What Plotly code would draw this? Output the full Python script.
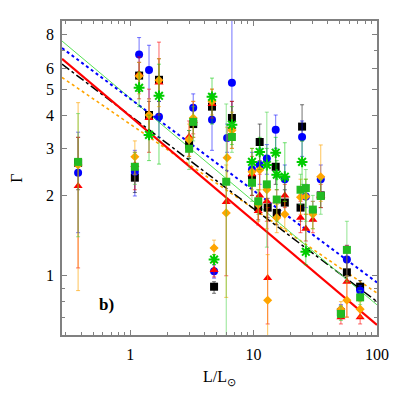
import plotly.graph_objects as go

# luminosity L/Lsun of each object column
L_obj = [0.378, 1.09, 1.18, 1.42, 1.71, 3.0, 3.24, 4.6, 4.78, 6.0, 6.1, 6.67, 9.7, 10.9,
         11.2, 12.8, 13.0, 15.1, 15.4, 17.9, 24.0, 24.7, 26.5, 30.2, 35.0, 51.0, 57.0, 73.0]

# Gamma values per method (None = not plotted), with lower / upper error ends
black_y = [2.65, 2.33, 5.62, 4.0, 5.42, 3.1, 3.7, 4.3, 0.91, None, None, 3.9, 2.3, 1.81,
           3.17, None, 1.8, 2.56, 1.72, 1.88, 1.8, 3.62, None, None, 2.0, 0.73, 1.03, 0.91]
black_lo = [2.1, 2.05, 4.9, 3.5, 4.5, 2.75, 3.3, 3.8, 0.86, None, None, 3.4, 2.0, 1.62,
            2.7, None, 1.65, 2.2, 1.55, 1.7, 1.6, 3.2, None, None, 1.8, 0.69, 0.95, 0.87]
black_hi = [3.3, 2.62, 6.3, 4.5, 6.5, 3.5, 4.2, 4.8, 0.95, None, None, 4.5, 2.6, 2.0,
            3.7, None, 1.95, 2.9, 1.9, 2.1, 2.0, 4.37, None, None, 2.25, 0.77, 1.12, 0.96]

blue_y = [2.43, 2.45, 6.74, 5.9, 3.94, None, 4.26, 3.84, 1.04, None, 3.28, 5.28, 2.5, None,
          2.6, 2.75, None, 3.52, None, 2.3, None, 3.31, 1.98, 1.75, 2.3, 0.74, 1.15, 0.88]
blue_lo = [1.45, 1.99, 5.6, 4.6, 3.3, None, 3.7, 2.95, 0.98, None, 2.9, 3.5, 2.2, None,
           2.2, 2.4, None, 3.0, None, 2.0, None, 2.8, 1.8, 1.6, 2.05, 0.7, 1.0, 0.84]
blue_hi = [3.45, 2.95, 7.8, 7.3, 4.5, None, 4.8, 4.8, 1.1, None, 3.7, 9.5, 2.9, None,
           3.0, 3.1, None, 4.0, None, 2.6, None, 3.8, 2.2, 1.9, 2.6, 0.78, 1.3, 0.92]

red_y = [2.17, 2.6, 5.7, 3.9, 5.3, 3.32, 3.8, 4.4, 1.05, 1.89, None, 3.6, 2.4, 1.75,
         2.0, 1.9, 0.98, None, 1.9, 2.0, 1.65, None, 1.5, 1.62, 2.0, 0.70, 0.95, 0.70]
red_lo = [1.07, 2.1, 4.6, 2.9, 4.0, 2.8, 3.4, 3.9, 0.99, 1.0, None, 3.0, 2.0, 1.55,
          1.7, 1.6, 0.66, None, 1.7, 1.8, 1.45, None, 1.35, 1.45, 1.8, 0.66, 0.7, 0.66]
red_hi = [3.3, 2.9, 6.6, 5.0, 7.5, 3.8, 4.5, 5.0, 1.12, 2.3, None, 4.5, 2.8, 1.95,
          2.4, 2.2, 1.8, None, 2.1, 2.2, 1.9, None, 1.7, 1.8, 2.2, 0.74, 1.3, 0.74]

orange_y = [2.6, 2.79, 5.6, 4.0, 5.4, 3.23, 3.9, 4.5, 1.27, 1.72, 2.77, 3.5, 2.45, 1.85,
            2.49, 2.1, 0.81, None, 1.65, 1.7, 1.97, None, 1.98, 1.7, 2.35, 0.75, 0.81, 0.75]
orange_lo = [0.88, 2.4, 4.8, 3.4, 4.3, 2.8, 3.3, 4.0, 1.2, 0.83, 2.3, 3.0, 2.1, 1.6,
             2.1, 1.5, 0.55, None, 1.45, 1.5, 1.7, None, 1.7, 1.5, 1.9, 0.7, 0.7, 0.7]
orange_hi = [4.45, 3.2, 6.3, 4.6, 6.5, 3.7, 4.5, 5.0, 1.36, 2.6, 3.6, 4.1, 3.0, 2.1,
             2.9, 2.6, 1.2, None, 1.85, 1.9, 2.3, None, 2.3, 1.9, 3.09, 0.8, 1.0, 0.8]

star_y = [None, None, 5.06, 3.37, 4.72, None, None, 4.68, 1.15, None, None, 3.68, 2.67, None,
          2.91, 2.6, None, 2.89, 2.39, 2.35, None, 2.67, 1.23, None, None, None, None, None]
star_lo = [None, None, 4.3, 2.7, 2.62, None, None, 3.7, 1.1, None, None, 3.1, 2.3, None,
           2.5, 2.2, None, 2.4, 2.1, 1.9, None, 2.2, 1.1, None, None, None, None, None]
star_hi = [None, None, 5.8, 4.0, 6.2, None, None, 5.5, 1.2, None, None, 4.3, 3.0, None,
           3.3, 3.0, None, 3.3, 2.7, 3.15, None, 3.2, 2.3, None, None, None, None, None]

gsq_y = [2.67, 2.56, None, None, None, 2.99, 3.77, None, None, 2.25, None, 3.31, 2.23, 1.9,
         None, 2.2, None, None, 1.93, None, 2.1, None, 2.13, 1.77, 1.99, 0.72, 1.25, 0.83]
gsq_lo = [1.4, 2.2, None, None, None, 2.5, 3.2, None, None, 0.55, None, 2.9, 1.9, 1.7,
          None, 1.28, None, None, 1.6, None, 1.85, None, 1.6, 1.5, 1.7, 0.68, 0.95, 0.78]
gsq_hi = [4.05, 2.9, None, None, None, 3.5, 4.3, None, None, 4.4, None, 3.7, 2.6, 2.1,
          None, 4.1, None, None, 2.3, None, 2.4, None, 2.5, 2.0, 2.3, 0.77, 1.6, 0.88]

# power-law fits, read at the two ends of the x range
fit_x = [0.28, 100]
fit_red = [6.49, 0.655]
fit_blue = [7.13, 0.944]
fit_green = [7.57, 0.778]
fit_black = [6.2, 0.80]
fit_orange = [5.53, 0.861]

SERIF = "Liberation Serif, Times New Roman, serif"

fig = go.Figure()

fig.add_trace(go.Scatter(x=fit_x, y=fit_orange, mode="lines",
                         line=dict(color="#ffa500", width=1.6, dash="dot")))
fig.add_trace(go.Scatter(x=fit_x, y=fit_black, mode="lines",
                         line=dict(color="black", width=1.5, dash="dashdot")))
fig.add_trace(go.Scatter(x=fit_x, y=fit_green, mode="lines",
                         line=dict(color="#55e055", width=1)))
fig.add_trace(go.Scatter(x=fit_x, y=fit_blue, mode="lines",
                         line=dict(color="#0000ff", width=2, dash="dot")))
fig.add_trace(go.Scatter(x=fit_x, y=fit_red, mode="lines",
                         line=dict(color="#ff0000", width=2.2)))


def add_points(ys, lo, hi, color, bar_color, symbol, size, line=None):
    up = [(h - y) if y is not None else 0 for y, h in zip(ys, hi)]
    down = [(y - l) if y is not None else 0 for y, l in zip(ys, lo)]
    fig.add_trace(go.Scatter(
        x=L_obj, y=ys, mode="markers",
        marker=dict(color=color, symbol=symbol, size=size,
                    line=line or dict(width=0)),
        error_y=dict(type="data", symmetric=False, array=up, arrayminus=down,
                     color=bar_color, thickness=1, width=2),
    ))


add_points(black_y, black_lo, black_hi, "black", "rgba(0,0,0,0.55)", "square", 8)
add_points(blue_y, blue_lo, blue_hi, "#0000ff", "rgba(0,0,255,0.55)", "circle", 8)
add_points(red_y, red_lo, red_hi, "#ff0000", "rgba(255,0,0,0.6)", "triangle-up", 8)
add_points(orange_y, orange_lo, orange_hi, "#ffa500", "rgba(255,165,0,0.65)", "diamond", 7)
add_points(star_y, star_lo, star_hi, "#00cc00", "rgba(0,200,0,0.55)", "asterisk-open", 9,
           line=dict(color="#00cc00", width=2))
add_points(gsq_y, gsq_lo, gsq_hi, "#22bb22", "rgba(60,210,60,0.55)", "square", 8)

axis_common = dict(
    showline=True, linecolor="#808080", linewidth=1.5, mirror="allticks",
    ticks="inside", ticklen=5, tickcolor="#808080", showgrid=False, zeroline=False,
    automargin=False,
    tickfont=dict(family=SERIF, size=16, color="black"),
)

fig.update_xaxes(
    type="log", range=[-0.553, 2], tickvals=[1, 10, 100], ticktext=["1", "10", "100"],
    minor=dict(ticks="inside", ticklen=3, tickcolor="#808080",
               tickvals=[0.3, 0.4, 0.5, 0.6, 0.7, 0.8, 0.9, 2, 3, 4, 5, 6, 7, 8, 9,
                         20, 30, 40, 50, 60, 70, 80, 90]),
    title=dict(text="L/L<sub>⊙</sub>", font=dict(family=SERIF, size=16, color="black"),
               standoff=9),
    ticklabelstandoff=4,
    **axis_common,
)
fig.update_yaxes(
    type="log", range=[-0.2218, 0.9542], tickvals=[1, 2, 3, 4, 5, 6, 8],
    ticktext=["1", "2", "3", "4", "5", "6", "8"],
    minor=dict(ticks="inside", ticklen=3, tickcolor="#808080",
               tickvals=[0.6, 0.7, 0.8, 0.9, 7, 9]),
    title=dict(text="Γ", font=dict(family=SERIF, size=16, color="black"), standoff=24),
    ticklabelstandoff=3,
    **axis_common,
)

fig.add_annotation(text="<b>b)</b>", xref="paper", yref="paper", x=0.11, y=0.06,
                   showarrow=False, font=dict(family=SERIF, size=17, color="black"))

# the page body adds an 8 px offset, so the figure is drawn 8 px smaller
fig.update_layout(
    width=399, height=399, showlegend=False,
    margin=dict(l=54, r=30, t=13, b=72),
    paper_bgcolor="white", plot_bgcolor="white",
)

fig.write_html("out.html")
